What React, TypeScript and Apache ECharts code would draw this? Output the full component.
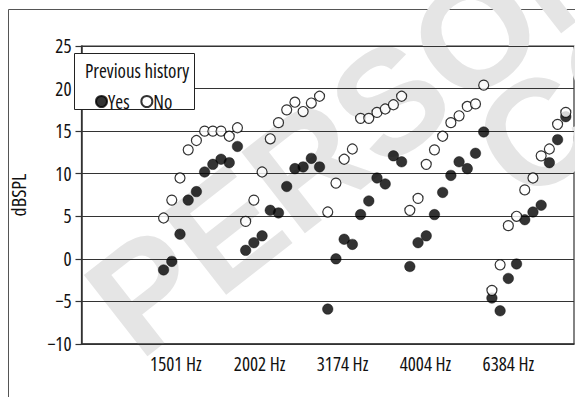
import React, { useEffect, useRef } from "react";
import * as echarts from "echarts";

const categories = ["1501 Hz", "2002 Hz", "3174 Hz", "4004 Hz", "6384 Hz"];
const labelPositions = [1.5, 11.7, 21.8, 31.9, 42];
const yTicks = [-10, -5, 0, 5, 10, 15, 20, 25];

const yesValues = [
  -1.3, -0.3, 2.9, 6.9, 7.9, 10.2, 11.1, 11.7, 11.3, 13.2,
  1.0, 1.9, 2.7, 5.7, 5.4, 8.5, 10.6, 10.8, 11.8, 10.8,
  -5.9, 0.0, 2.3, 1.7, 5.2, 6.8, 9.5, 8.8, 12.1, 11.4,
  -0.9, 1.9, 2.7, 5.2, 7.8, 9.8, 11.4, 10.6, 12.4, 14.9,
  -4.6, -6.1, -2.3, -0.6, 4.6, 5.5, 6.3, 11.3, 14.0, 16.7,
];

const noValues = [
  4.8, 6.9, 9.5, 12.8, 13.9, 15.0, 15.0, 15.0, 14.4, 15.4,
  4.4, 6.9, 10.2, 14.1, 16.0, 17.5, 18.4, 17.3, 18.3, 19.1,
  5.5, 8.9, 11.7, 12.9, 16.5, 16.5, 17.2, 17.6, 18.1, 19.1,
  5.7, 7.1, 11.1, 12.8, 14.4, 16.0, 16.8, 17.9, 18.2, 20.4,
  -3.7, -0.7, 3.9, 5.0, 8.1, 9.5, 12.1, 12.9, 15.8, 17.2,
];

const FONT = "'Open Sans', sans-serif";
const WM_FONT = "'Liberation Sans', sans-serif";

export default function App() {
  const ref = useRef<HTMLDivElement>(null);
  useEffect(() => {
    if (!ref.current) return;
    const chart = echarts.init(ref.current, undefined, { renderer: "svg" });
    const fmtNum = (v: number) => String(v).replace("-", "\u2212");
    chart.setOption({
      animation: false,
      backgroundColor: "#ffffff",
      textStyle: { fontFamily: FONT },
      grid: {
        left: 63,
        top: 46,
        right: 1,
        bottom: 53,
        show: true,
        borderColor: "#333",
        borderWidth: 1.2,
        backgroundColor: "transparent",
      },
      graphic: [
        {
          type: "group",
          x: 100,
          y: 312,
          rotation: 0.663,
          z: -10,
          silent: true,
          children: [
            {
              type: "text",
              x: 0,
              y: 12,
              style: {
                text: "PERSONAL",
                fontSize: 150,
                fontWeight: "bold",
                fontFamily: WM_FONT,
                fill: "#e5e5e5",
                textAlign: "left",
                textVerticalAlign: "middle",
              },
            },
            {
              type: "text",
              x: 400,
              y: 128,
              style: {
                text: "COPY",
                fontSize: 150,
                fontWeight: "bold",
                fontFamily: WM_FONT,
                fill: "#e5e5e5",
                textAlign: "left",
                textVerticalAlign: "middle",
              },
            },
          ],
        },
        {
          type: "rect",
          shape: { x: 8.5, y: 9.5, width: 700, height: 500 },
          z: -5,
          silent: true,
          style: { fill: "none", stroke: "#555", lineWidth: 1 },
        },
        {
          type: "rect",
          shape: { x: 74.5, y: 53.5, width: 120, height: 56 },
          z: 3,
          silent: true,
          style: { fill: "#fff", stroke: "#222", lineWidth: 1 },
        },
        {
          type: "text",
          x: 137,
          y: 71,
          z: 5,
          silent: true,
          style: {
            text: "Previous history",
            fontSize: 19,
            fontFamily: FONT,
            fill: "#111",
            textAlign: "center",
            textVerticalAlign: "middle",
          },
        },
      ],
      legend: {
        left: 90,
        top: 87,
        itemWidth: 11,
        itemHeight: 11,
        itemGap: 2,
        icon: "circle",
        z: 6,
        data: ["Yes", "No"],
        textStyle: { fontSize: 19, fontFamily: FONT, color: "#111", padding: [0, 0, 0, -4] },
      },
      xAxis: {
        type: "value",
        min: -10,
        max: 50,
        splitLine: { show: false },
        axisLine: { show: true, onZero: false, lineStyle: { color: "#333", width: 1.5 } },
        axisTick: { show: false },
        axisLabel: {
          customValues: labelPositions,
          margin: 10,
          fontSize: 19,
          fontFamily: FONT,
          color: "#111",
          formatter: (v: number) => {
            const idx = labelPositions.indexOf(v);
            return idx >= 0 ? categories[idx] : "";
          },
        },
      },
      yAxis: {
        type: "value",
        min: -10,
        max: 25,
        interval: 5,
        name: "dBSPL",
        nameLocation: "middle",
        nameGap: 37,
        nameTextStyle: { fontSize: 20, fontFamily: FONT, color: "#111" },
        axisLine: { show: true, onZero: false, lineStyle: { color: "#333", width: 1.5 } },
        axisTick: { show: true, length: 6, inside: false, lineStyle: { color: "#333", width: 1.2 } },
        splitLine: { show: true, lineStyle: { color: "#333", width: 1.2 } },
        axisLabel: {
          margin: 10,
          fontSize: 19,
          fontFamily: FONT,
          color: "#111",
          formatter: (v: number) => (yTicks.includes(v) ? fmtNum(v) : ""),
        },
      },
      series: [
        {
          name: "Yes",
          type: "scatter",
          symbol: "circle",
          symbolSize: 10.5,
          z: 3,
          itemStyle: { color: "#000", borderColor: "#000", borderWidth: 0.5 },
          data: yesValues.map((v, i) => [i, v]),
        },
        {
          name: "No",
          type: "scatter",
          symbol: "circle",
          symbolSize: 10,
          z: 4,
          itemStyle: { color: "#fff", borderColor: "#000", borderWidth: 1.2 },
          data: noValues.map((v, i) => [i, v]),
        },
      ],
    });
    return () => chart.dispose();
  }, []);
  return (
    <>
      <style>{`svg text { font-stretch: 75% !important; }`}</style>
      <div ref={ref} style={{ width: 575, height: 397, position: "absolute", left: 0, top: 0 }} />
    </>
  );
}
